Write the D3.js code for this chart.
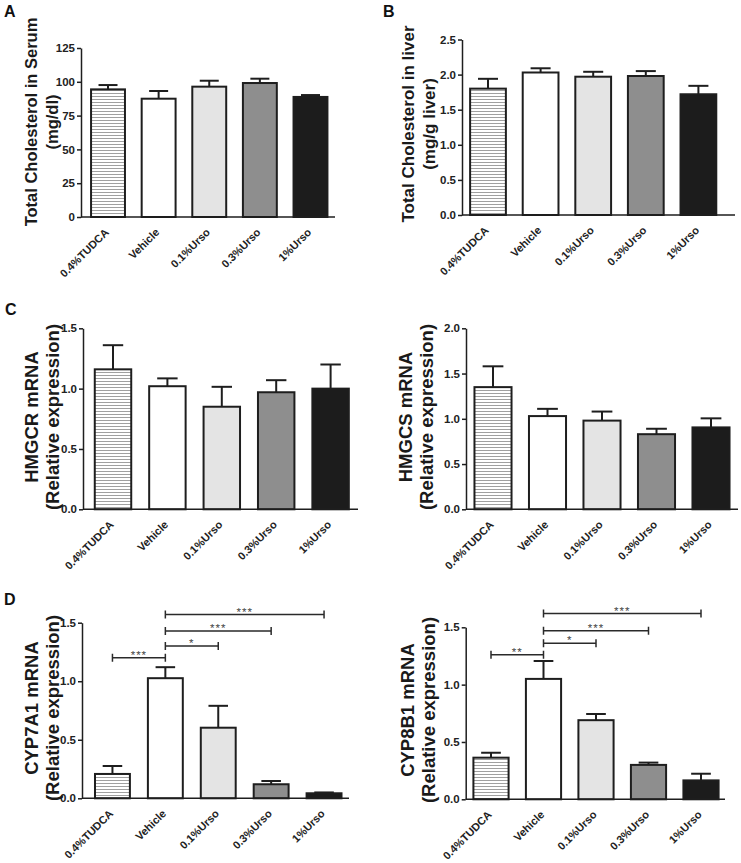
<!DOCTYPE html>
<html>
<head>
<meta charset="utf-8">
<script src="https://cdn.jsdelivr.net/npm/d3@7"></script>
<style>
  body { margin: 0; background: #fff; }
  svg { font-family: "Liberation Sans", Arial, sans-serif; }
</style>
</head>
<body>
<div id="chart"></div>
<script>
// groups along every x axis
const groups = ["0.4%TUDCA", "Vehicle", "0.1%Urso", "0.3%Urso", "1%Urso"];

// A - serum cholesterol (mg/dl)
const serumMean = [94.4, 87.5, 96.4, 99.1, 88.8];
const serumErr = [3.2, 5.7, 4.4, 3.2, 1.4];
// B - liver cholesterol (mg/g liver)
const liverMean = [1.80, 2.03, 1.97, 1.98, 1.72];
const liverErr = [0.14, 0.06, 0.07, 0.07, 0.12];
// C - HMGCR / HMGCS relative expression
const hmgcrMean = [1.16, 1.02, 0.85, 0.97, 1.00];
const hmgcrErr = [0.20, 0.065, 0.165, 0.10, 0.20];
const hmgcsMean = [1.35, 1.03, 0.98, 0.83, 0.905];
const hmgcsErr = [0.23, 0.08, 0.10, 0.06, 0.10];
// D - CYP7A1 / CYP8B1 relative expression
const cyp7a1Mean = [0.208, 1.026, 0.603, 0.12, 0.043];
const cyp7a1Err = [0.068, 0.094, 0.187, 0.028, 0.007];
const cyp8b1Mean = [0.363, 1.05, 0.69, 0.30, 0.165];
const cyp8b1Err = [0.043, 0.156, 0.054, 0.02, 0.058];

// significance brackets: [from group, to group, height, label]
const cyp7a1Sig = [[0, 1, 1.20, "***"], [1, 2, 1.30, "*"], [1, 3, 1.43, "***"], [1, 4, 1.57, "***"]];
const cyp8b1Sig = [[0, 1, 1.26, "**"], [1, 2, 1.36, "*"], [1, 3, 1.47, "***"], [1, 4, 1.62, "***"]];

// tick values
const ticksSerum = [0, 25, 50, 75, 100, 125];
const ticksLiver = [0, 0.5, 1.0, 1.5, 2.0, 2.5];
const ticks15 = [0, 0.5, 1.0, 1.5];
const ticks20 = [0, 0.5, 1.0, 1.5, 2.0];

const fills = ["url(#stripes)", "#ffffff", "#e4e4e4", "#8e8e8e", "#1c1c1c"];
const ink = "#1e1e1e";

const svg = d3.select("#chart")
    .append("svg")
    .attr("width", 741)
    .attr("height", 863);

const pat = svg.append("defs")
    .append("pattern")
    .attr("id", "stripes")
    .attr("patternUnits", "userSpaceOnUse")
    .attr("width", 8)
    .attr("height", 3);
pat.append("rect").attr("width", 8).attr("height", 3).attr("fill", "#fff");
pat.append("rect").attr("width", 8).attr("height", 1).attr("fill", "#a0a0a0");

function drawPanel(p) {
    const g = svg.append("g");

    const x = d3.scaleBand()
        .domain(groups)
        .range(p.band)
        .paddingInner(p.pad)
        .paddingOuter(p.pad / 2);

    const y = d3.scaleLinear()
        .domain([0, p.yMax])
        .range([p.y0, p.y1]);

    const bw = x.bandwidth();
    const rows = groups.map((name, i) => ({ name, mean: p.mean[i], err: p.err[i], fill: fills[i] }));

    // y axis
    const yAxis = d3.axisLeft(y)
        .tickValues(p.ticks)
        .tickSize(4)
        .tickSizeOuter(0)
        .tickPadding(2)
        .tickFormat(p.fmt);

    const ya = g.append("g")
        .attr("transform", `translate(${p.axisX},0)`)
        .call(yAxis)
        .attr("font-family", null);
    ya.selectAll("path, line").attr("stroke", ink).attr("stroke-width", 1.5);
    ya.selectAll("text")
        .attr("font-size", 11.5)
        .attr("font-weight", "bold")
        .attr("fill", "#222");

    // x axis: labels only, baseline drawn separately
    const xa = g.append("g")
        .attr("transform", `translate(0,${p.y0})`)
        .call(d3.axisBottom(x).tickSize(0))
        .attr("font-family", null);
    xa.select(".domain").remove();
    xa.selectAll("text")
        .attr("x", 0)
        .attr("y", 0)
        .attr("dy", null)
        .attr("transform", "translate(1.5,16) rotate(-45)")
        .attr("text-anchor", "end")
        .attr("font-size", 11)
        .attr("font-weight", "bold")
        .attr("fill", "#222");

    // bars
    g.append("g")
        .selectAll("rect")
        .data(rows)
        .join("rect")
        .attr("x", d => x(d.name))
        .attr("y", d => y(d.mean))
        .attr("width", bw)
        .attr("height", d => y(0) - y(d.mean))
        .attr("fill", d => d.fill)
        .attr("stroke", ink)
        .attr("stroke-width", 2);

    // upper error bars
    const eb = g.append("g")
        .selectAll("g")
        .data(rows)
        .join("g")
        .attr("stroke", ink)
        .attr("stroke-width", 2);
    eb.append("line")
        .attr("x1", d => x(d.name) + bw / 2)
        .attr("x2", d => x(d.name) + bw / 2)
        .attr("y1", d => y(d.mean))
        .attr("y2", d => y(d.mean + d.err));
    eb.append("line")
        .attr("x1", d => x(d.name) + bw / 2 - bw * 0.28)
        .attr("x2", d => x(d.name) + bw / 2 + bw * 0.28)
        .attr("y1", d => y(d.mean + d.err))
        .attr("y2", d => y(d.mean + d.err));

    // baseline
    g.append("line")
        .attr("x1", p.axisX)
        .attr("x2", p.axisEnd)
        .attr("y1", y(0))
        .attr("y2", y(0))
        .attr("stroke", ink)
        .attr("stroke-width", 1.5);

    // significance brackets
    if (p.sig) {
        const sg = g.append("g")
            .selectAll("g")
            .data(p.sig)
            .join("g");
        sg.append("path")
            .attr("d", d => {
                const a = x(groups[d[0]]) + bw / 2;
                const b = x(groups[d[1]]) + bw / 2;
                const yy = y(d[2]);
                return `M${a},${yy - 4}V${yy + 4}M${a},${yy}H${b}M${b},${yy - 4}V${yy + 4}`;
            })
            .attr("fill", "none")
            .attr("stroke", "#2a2a2a")
            .attr("stroke-width", 1.5);
        sg.append("text")
            .attr("x", d => (x(groups[d[0]]) + x(groups[d[1]])) / 2 + bw / 2)
            .attr("y", d => y(d[2]) + 1)
            .attr("text-anchor", "middle")
            .attr("font-size", 11.5)
            .attr("letter-spacing", 1)
            .attr("fill", "#444")
            .text(d => d[3]);
    }

    // y title, two lines
    g.append("g")
        .selectAll("text")
        .data(p.title)
        .join("text")
        .attr("transform", (d, i) => `translate(${p.titleX + i * p.titleGap},${p.titleY}) rotate(-90)`)
        .attr("text-anchor", "middle")
        .attr("dy", "0.35em")
        .attr("font-size", p.titleSize)
        .attr("font-weight", "bold")
        .attr("fill", "#1a1a1a")
        .text(d => d);

    if (p.letter) {
        g.append("text")
            .attr("x", p.letter[1])
            .attr("y", p.letter[2])
            .attr("font-size", 16)
            .attr("font-weight", "bold")
            .attr("fill", "#111")
            .text(p.letter[0]);
    }
}

const fmt1 = d3.format(".1f");

drawPanel({
    mean: serumMean, err: serumErr, ticks: ticksSerum, fmt: d3.format("d"), yMax: 125,
    band: [82.7, 335.8], pad: 0.33, axisX: 81, axisEnd: 335, y0: 217, y1: 48,
    title: ["Total Cholesterol in Serum", "(mg/dl)"], titleX: 31, titleGap: 21, titleY: 122, titleSize: 16.5,
    letter: ["A", 4, 17]
});

drawPanel({
    mean: liverMean, err: liverErr, ticks: ticksLiver, fmt: fmt1, yMax: 2.5,
    band: [461.7, 724.7], pad: 0.32, axisX: 462, axisEnd: 735, y0: 215, y1: 39.5,
    title: ["Total Cholesterol in liver", "(mg/g liver)"], titleX: 408, titleGap: 21, titleY: 124, titleSize: 17,
    letter: ["B", 383, 17]
});

drawPanel({
    mean: hmgcrMean, err: hmgcrErr, ticks: ticks15, fmt: fmt1, yMax: 1.5,
    band: [85.8, 357.8], pad: 0.33, axisX: 83, axisEnd: 358, y0: 509.3, y1: 328.3,
    title: ["HMGCR mRNA", "(Relative expression)"], titleX: 32, titleGap: 21, titleY: 417, titleSize: 18.5,
    letter: ["C", 5, 315]
});

drawPanel({
    mean: hmgcsMean, err: hmgcsErr, ticks: ticks20, fmt: fmt1, yMax: 2.0,
    band: [465.75, 738.25], pad: 0.32, axisX: 466, axisEnd: 738, y0: 509.3, y1: 328.3,
    title: ["HMGCS mRNA", "(Relative expression)"], titleX: 406, titleGap: 21, titleY: 417, titleSize: 18.5
});

drawPanel({
    mean: cyp7a1Mean, err: cyp7a1Err, ticks: ticks15, fmt: fmt1, yMax: 1.5,
    band: [86, 350.5], pad: 0.34, axisX: 82, axisEnd: 349, y0: 798.3, y1: 622.7,
    sig: cyp7a1Sig,
    title: ["CYP7A1 mRNA", "(Relative expression)"], titleX: 32, titleGap: 21, titleY: 708, titleSize: 18.5,
    letter: ["D", 4, 605]
});

drawPanel({
    mean: cyp8b1Mean, err: cyp8b1Err, ticks: ticks15, fmt: fmt1, yMax: 1.5,
    band: [464.75, 727.25], pad: 0.33, axisX: 465.7, axisEnd: 725, y0: 799.3, y1: 627.3,
    sig: cyp8b1Sig,
    title: ["CYP8B1 mRNA", "(Relative expression)"], titleX: 408, titleGap: 21, titleY: 710, titleSize: 18.5
});
</script>
</body>
</html>
